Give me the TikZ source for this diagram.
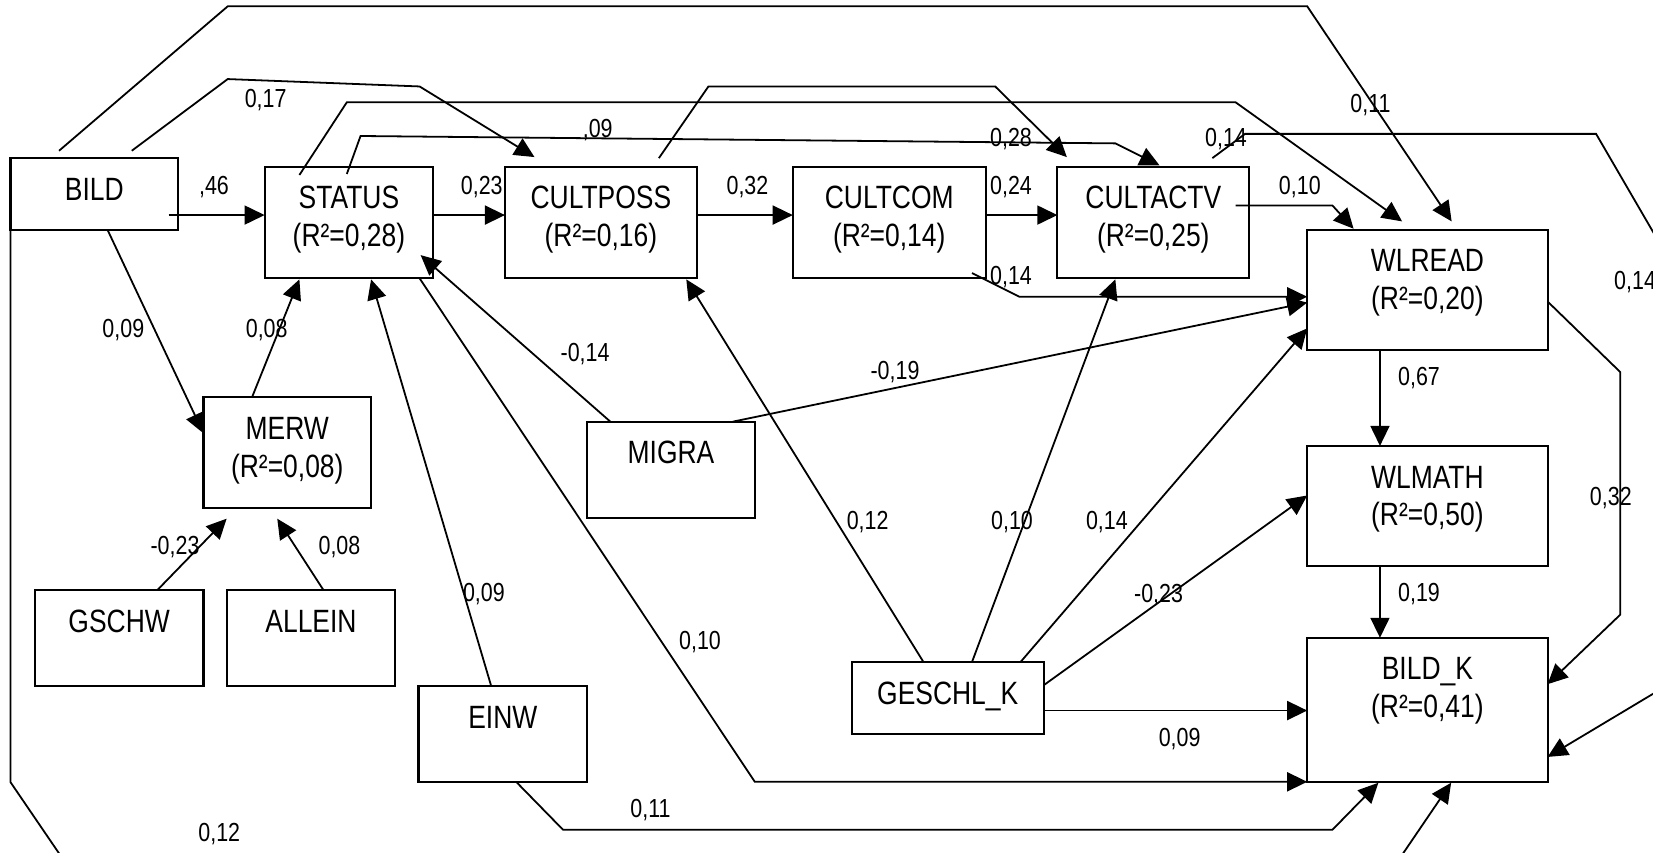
\documentclass[tikz,border=0pt]{standalone}
\usepackage{fontspec}
\setmainfont{Liberation Sans}[FakeStretch=0.82]
\usetikzlibrary{calc,arrows.meta}
\tikzset{
  box/.style={draw, line width=1pt, inner sep=0pt, outer sep=0pt},
  ntext/.style={anchor=base, inner sep=0pt, font=\fontsize{15.3}{18}\selectfont},
  lab/.style={anchor=base, inner sep=0pt, font=\fontsize{12.4}{14}\selectfont},
  con/.style={line width=0.85pt, line join=miter},
  arr/.style={con, -{Triangle[length=9.5pt,width=9pt]}}
}
\newcommand{\twobox}[7]{%
  \node[box, minimum width={(#4-#2)*0.5pt}, minimum height={(#5-#3)*0.5pt}] (#1) at ({(#2+#4)/2},{(#3+#5)/2}) {};
  \node[ntext] (#1-a) at ({(#2+#4)/2},{#3+40}) {#6};
  \node[ntext] (#1-b) at ({(#2+#4)/2},{#3+75.5}) {#7};
}
\newcommand{\onebox}[6]{%
  \node[box, minimum width={(#4-#2)*0.5pt}, minimum height={(#5-#3)*0.5pt}] (#1) at ({(#2+#4)/2},{(#3+#5)/2}) {};
  \node[ntext] (#1-a) at ({(#2+#4)/2},{#3+40}) {#6};
}
\newcommand{\lbl}[4]{\node[lab] (#1) at (#2,{#3+8.8}) {#4};}
\begin{document}
\begin{tikzpicture}[x=0.5pt,y=-0.5pt]
\useasboundingbox (0,0) rectangle (1568,809);
\fill[white] (0,0) rectangle (1568,809);
\clip (0,0) rectangle (1568,809);

% boxes
\onebox{BILD}{10}{150}{169}{218}{BILD}
\twobox{STATUS}{251}{158}{411}{264}{STATUS}{(R²=0,28)}
\twobox{CULTPOSS}{479}{158}{661}{264}{CULTPOSS}{(R²=0,16)}
\twobox{CULTCOM}{752}{158}{935}{264}{CULTCOM}{(R²=0,14)}
\twobox{CULTACTV}{1003}{158}{1185}{264}{CULTACTV}{(R²=0,25)}
\twobox{WLREAD}{1240}{218}{1468}{332}{WLREAD}{(R²=0,20)}
\twobox{WLMATH}{1240}{423}{1468}{537}{WLMATH}{(R²=0,50)}
\twobox{BILDK}{1240}{605}{1468}{742}{BILD\_K}{(R²=0,41)}
\twobox{MERW}{193}{377}{352}{482}{MERW}{(R²=0,08)}
\onebox{GSCHW}{33}{560}{193}{651}{GSCHW}
\onebox{ALLEIN}{215}{560}{375}{651}{ALLEIN}
\onebox{EINW}{397}{651}{557}{742}{EINW}
\onebox{MIGRA}{557}{400}{716}{491}{MIGRA}
\onebox{GESCHLK}{808}{628}{990}{696}{GESCHL\_K}

% connectors
\draw[arr] ($(BILD.north west)+(150,54)$) -- ($(STATUS.north west)+(0,46)$);
\draw[arr] ($(STATUS.north west)+(160,46)$) -- ($(CULTPOSS.north west)+(0,46)$);
\draw[arr] ($(CULTPOSS.north west)+(182,46)$) -- ($(CULTCOM.north west)+(0,46)$);
\draw[arr] ($(CULTCOM.north west)+(183,46)$) -- ($(CULTACTV.north west)+(0,46)$);
\draw[arr] ($(BILD.north west)+(46,-7)$) -- (216,6) -- (1240,6) -- ($(WLREAD.north west)+(137,-8)$);
\draw[arr] ($(BILD.north west)+(115,-7)$) -- (216,75) -- (398,82) -- ($(CULTPOSS.north west)+(28,-9)$);
\draw[arr] ($(STATUS.north west)+(33,8)$) -- (329,97) -- (1172,97) -- ($(WLREAD.north west)+(90,-8)$);
\draw[arr] ($(STATUS.north west)+(78,7)$) -- (342,129) -- (1058,136) -- ($(CULTACTV.north west)+(97,-1)$);
\draw[arr] ($(CULTPOSS.north west)+(146,-8)$) -- (672,82) -- (944,82) -- ($(CULTACTV.north west)+(9,-9)$);
\draw[arr] ($(CULTACTV.north west)+(169,37)$) -- (1264,195) -- ($(WLREAD.north west)+(44,-1)$);
\draw[arr] ($(CULTACTV.north west)+(147,-8)$) -- (1181,127) -- (1514,127) -- (1600,275) -- (1600,639) -- ($(BILDK.north west)+(228,113)$);
\draw[arr] ($(WLREAD.north west)+(228,68)$) -- (1537,353) -- (1537,583) -- ($(BILDK.north west)+(228,44)$);
\draw[arr] ($(WLREAD.north west)+(69,114)$) -- ($(WLMATH.north west)+(69,0)$);
\draw[arr] ($(WLMATH.north west)+(69,114)$) -- ($(BILDK.north west)+(69,0)$);
\draw[arr] ($(CULTCOM.north west)+(170,101)$) -- (967,281.5) -- ($(WLREAD.north west)+(0,63.5)$);
\draw[arr] ($(MIGRA.north west)+(138,0)$) -- ($(WLREAD.north west)+(0,69)$);
\draw[arr] ($(MIGRA.north west)+(22,0)$) -- ($(STATUS.north west)+(148,84)$);
\draw[arr] ($(GESCHLK.north west)+(68,0)$) -- ($(CULTPOSS.north west)+(172,107)$);
\draw[arr] ($(GESCHLK.north west)+(114,0)$) -- ($(CULTACTV.north west)+(55,107)$);
\draw[arr] ($(GESCHLK.north west)+(160,0)$) -- ($(WLREAD.north west)+(0,93.5)$);
\draw[arr] ($(GESCHLK.north west)+(182,22)$) -- ($(WLMATH.north west)+(0,47)$);
\draw[arr] ($(GESCHLK.north west)+(182,46)$) -- ($(BILDK.north west)+(0,69)$);
\draw[arr] ($(STATUS.north west)+(147,106)$) -- (716,741.6) -- ($(BILDK.north west)+(0,136.6)$);
\draw[arr] ($(EINW.north west)+(93,91)$) -- (534,787) -- (1264,787) -- ($(BILDK.north west)+(67.5,137.5)$);
\draw[arr] (BILD.south west) -- (10,742) -- (70,830) -- (1317,830) -- ($(BILDK.north west)+(136.5,137.5)$);
\draw[arr] ($(BILD.north west)+(92,68)$) -- ($(MERW.north west)+(0,34)$);
\draw[arr] ($(MERW.north west)+(46,0)$) -- ($(STATUS.north west)+(33,107)$);
\draw[arr] ($(EINW.north west)+(69,0)$) -- ($(STATUS.north west)+(101,107)$);
\draw[arr] ($(GSCHW.north west)+(116,0)$) -- ($(MERW.north west)+(22,115)$);
\draw[arr] ($(ALLEIN.north west)+(92,0)$) -- ($(MERW.north west)+(70,115)$);

% labels
\lbl{l1}{203}{176}{,46}
\lbl{l2}{457}{176}{0,23}
\lbl{l3}{709}{176}{0,32}
\lbl{l4}{959}{176}{0,24}
\lbl{l5}{1233}{176}{0,10}
\lbl{l6}{252}{93}{0,17}
\lbl{l7}{567}{122}{,09}
\lbl{l8}{959}{130}{0,28}
\lbl{l9}{1163}{130}{0,14}
\lbl{l10}{1300}{98}{0,11}
\lbl{l11}{959}{261}{0,14}
\lbl{l12}{1551}{266}{0,14}
\lbl{l13}{117}{311}{0,09}
\lbl{l14}{253}{311}{0,08}
\lbl{l15}{555}{334}{-0,14}
\lbl{l16}{849}{351}{-0,19}
\lbl{l17}{1346}{357}{0,67}
\lbl{l18}{1528}{471}{0,32}
\lbl{l19}{823}{493}{0,12}
\lbl{l20}{960}{493}{0,10}
\lbl{l21}{1050}{493}{0,14}
\lbl{l22}{166}{517}{-0,23}
\lbl{l23}{322}{517}{0,08}
\lbl{l24}{459}{562}{0,09}
\lbl{l25}{1099}{563}{-0,23}
\lbl{l26}{1346}{562}{0,19}
\lbl{l27}{664}{607}{0,10}
\lbl{l28}{1119}{699}{0,09}
\lbl{l29}{617}{767}{0,11}
\lbl{l30}{208}{789}{0,12}
\end{tikzpicture}
\end{document}
